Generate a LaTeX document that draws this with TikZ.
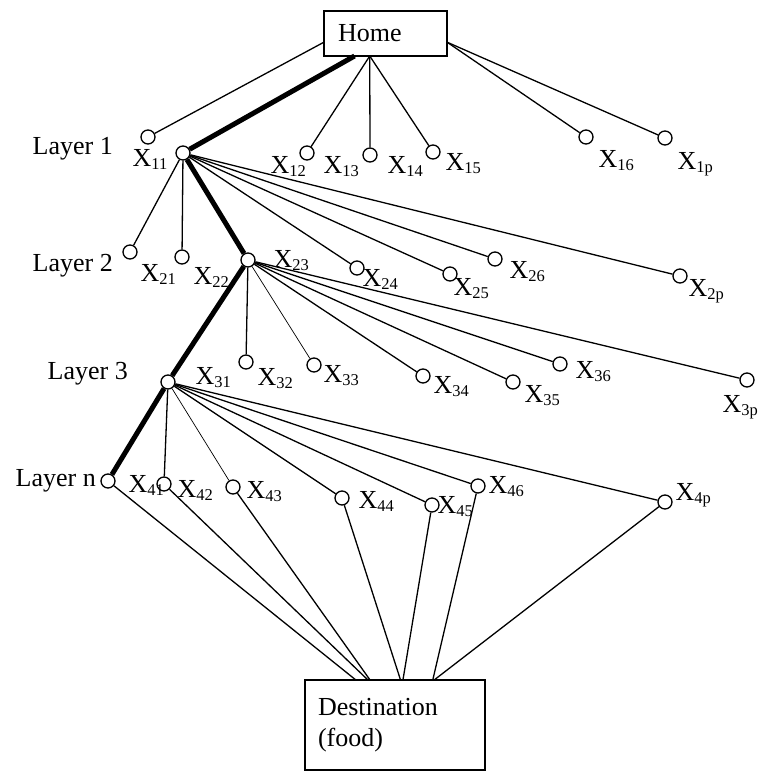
\documentclass[tikz,border=0pt]{standalone}
\usepackage{fontspec}
\setmainfont{Liberation Serif}
\newcommand{\xlab}[1]{X\raisebox{-3pt}{\fontsize{16.5}{18}\selectfont #1}}
\begin{document}
\begin{tikzpicture}[x=1pt, y=-1pt, line width=1.3,
  dot/.style={circle, draw, minimum size=14, inner sep=0},
  lab/.style={anchor=base west, inner sep=0},
  box/.style={draw, rectangle, inner ysep=0, outer sep=0, align=left},
  best/.style={line width=5},
  faint/.style={line width=0.7},
  font=\fontsize{26}{31}\selectfont]
\useasboundingbox (0,0) rectangle (761,771);
% home and first layer
\node[box, minimum width=123, minimum height=45, inner xsep=14, text width=95] (home) at (385.5,33.5) {Home};
\node[lab] (lay1) at (32,154) {Layer 1};
\node[dot] (x11) at (148,137){};
\node[dot] (x12) at (183,153){};
\node[dot] (x13) at (307,153){};
\node[dot] (x14) at (370,155){};
\node[dot] (x15) at (433,152){};
\node[dot] (x16) at (586,137){};
\node[dot] (x1p) at (665,138){};
\node[lab] (t11) at (132,166) {\xlab{11}};
\node[lab] (t12) at (270,173) {\xlab{12}};
\node[lab] (t13) at (323,173) {\xlab{13}};
\node[lab] (t14) at (387,173) {\xlab{14}};
\node[lab] (t15) at (445,170) {\xlab{15}};
\node[lab] (t16) at (598,167) {\xlab{16}};
\node[lab] (t1p) at (677,169) {\xlab{1p}};
\draw[](home.188) -- (x11);
\draw[best](home.216.7) -- (x12);
\draw[](home.235.4) -- (x13);
\draw[](home.235.4) -- (x14);
\draw[](home.235.4) -- (x15);
\draw[](home.352) -- (x16);
\draw[](home.352) -- (x1p);
% layer 2
\node[lab] (lay2) at (32,271) {Layer 2};
\node[dot] (x21) at (130,252){};
\node[dot] (x22) at (182,257){};
\node[dot] (x23) at (248,260){};
\node[dot] (x24) at (357,268){};
\node[dot] (x25) at (450,274){};
\node[dot] (x26) at (495,259){};
\node[dot] (x2p) at (680,276){};
\node[lab] (t21) at (140,281) {\xlab{21}};
\node[lab] (t22) at (193,284) {\xlab{22}};
\node[lab] (t23) at (273,267) {\xlab{23}};
\node[lab] (t24) at (362,286) {\xlab{24}};
\node[lab] (t25) at (453,295) {\xlab{25}};
\node[lab] (t26) at (509,278) {\xlab{26}};
\node[lab] (t2p) at (688,296) {\xlab{2p}};
\draw[](x12) -- (x21);
\draw[](x12) -- (x22);
\draw[best](x12) -- (x23);
\draw[](x12) -- (x24);
\draw[](x12) -- (x25);
\draw[](x12) -- (x26);
\draw[](x12) -- (x2p);
% layer 3
\node[lab] (lay3) at (47,379) {Layer 3};
\node[dot] (x31) at (168,382){};
\node[dot] (x32) at (246,362){};
\node[dot] (x33) at (314,365){};
\node[dot] (x34) at (423,376){};
\node[dot] (x35) at (513,382){};
\node[dot] (x36) at (560,364){};
\node[dot] (x3p) at (747,380){};
\node[lab] (t31) at (195,384) {\xlab{31}};
\node[lab] (t32) at (257,385) {\xlab{32}};
\node[lab] (t33) at (323,382) {\xlab{33}};
\node[lab] (t34) at (433,393) {\xlab{34}};
\node[lab] (t35) at (524,402) {\xlab{35}};
\node[lab] (t36) at (575,378) {\xlab{36}};
\node[lab] (t3p) at (722,412) {\xlab{3p}};
\draw[best](x23) -- (x31);
\draw[](x23) -- (x32);
\draw[faint](x23) -- (x33);
\draw[](x23) -- (x34);
\draw[](x23) -- (x35);
\draw[](x23) -- (x36);
\draw[](x23) -- (x3p);
% layer n
\node[lab] (layn) at (15,486) {Layer n};
\node[dot] (x41) at (108,481){};
\node[dot] (x42) at (164,484){};
\node[dot] (x43) at (233,487){};
\node[dot] (x44) at (342,498){};
\node[dot] (x45) at (432,505){};
\node[dot] (x46) at (478,486){};
\node[dot] (x4p) at (665,502){};
\node[lab] (t41) at (128,492) {\xlab{41}};
\node[lab] (t42) at (177,497) {\xlab{42}};
\node[lab] (t43) at (246,498) {\xlab{43}};
\node[lab] (t44) at (358,508) {\xlab{44}};
\node[lab] (t45) at (437,513) {\xlab{45}};
\node[lab] (t46) at (488,493) {\xlab{46}};
\node[lab] (t4p) at (675,500) {\xlab{4p}};
\draw[best](x31) -- (x41);
\draw[](x31) -- (x42);
\draw[faint](x31) -- (x43);
\draw[](x31) -- (x44);
\draw[](x31) -- (x45);
\draw[](x31) -- (x46);
\draw[](x31) -- (x4p);
% destination
\node[box, minimum width=180, minimum height=90, inner xsep=13, text width=154] (dest) at (395,725) {Destination\\(food)};
\draw[](x41) -- (dest.131.6);
\draw[](x42) -- (dest.121);
\draw[](x43) -- (dest.119);
\draw[](x44) -- (dest.83.7);
\draw[](x45) -- (dest.80);
\draw[](x46) -- (dest.50.6);
\draw[](x4p) -- (dest.49.8);
\end{tikzpicture}
\end{document}
